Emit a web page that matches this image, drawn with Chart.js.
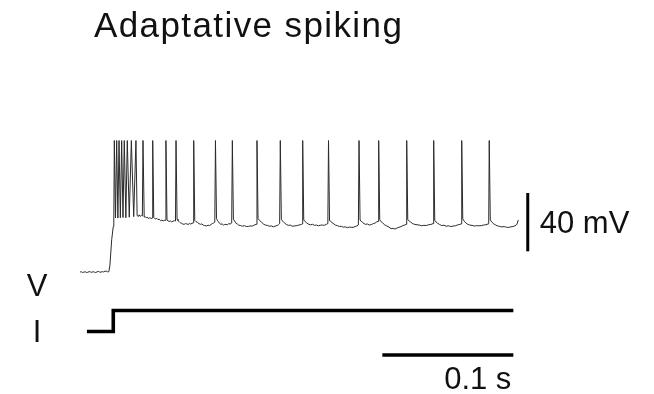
<!DOCTYPE html>
<html>
<head>
<meta charset="utf-8">
<script src="https://cdn.jsdelivr.net/npm/chart.js@4/dist/chart.umd.min.js"></script>
<style>
  html, body { margin: 0; padding: 0; background: #ffffff; }
  #wrap { width: 654px; height: 394px; }
</style>
</head>
<body>
<div id="wrap"><canvas id="c" width="654" height="394"></canvas></div>
<script>
// Membrane potential recording (ms, mV): resting level, current onset, adapting spike train.
// One line per inter-spike stretch; the last value of each line is the spike peak.
const vTimeMs = [
  0, 1, 2, 3, 4, 5, 6, 7, 8, 9, 10, 11, 12, 13, 14, 15, 16, 17, 18, 19, 20, 21, 22,
  22.8, 24.2, 25.4, 25.8,
  26.2, 27.1, 28.0, 28.9, 29.8, 30.8, 31.8, 32.8, 33.8, 35.0, 36.1, 37.6, 39.2, 41.0, 42.7,
  43.6, 44.3, 45.0, 45.8, 46.5, 47.1, 47.6, 48.1,
  49.0, 49.8, 50.5, 51.3, 52.0, 52.8, 53.5, 54.3, 55.0, 55.5,
  56.3, 57.0, 57.8, 58.6, 59.5, 60.5, 61.5, 62.5, 63.5, 64.3, 65.0, 65.6,
  66.4, 67.2, 68.0, 69.0, 70.0, 71.0, 72.0, 72.9, 73.3,
  74.1, 74.8, 75.5, 76.5, 77.5, 78.5, 79.5, 80.5, 81.5, 82.5, 83.5, 84.5, 85.5, 86.4, 86.8,
  87.6, 88.5, 89.5, 90.8, 92.0, 93.0, 94.0, 95.2, 96.5, 97.8, 99.0, 100.0, 101.0, 102.0, 102.9, 103.4,
  104.2, 104.8, 105.5, 106.5, 107.5, 108.5, 109.5, 110.5, 111.5, 112.5, 113.5, 114.6, 115.8, 116.3,
  117.1, 118.0, 118.8, 120.0, 121.0, 122.5, 124.0, 125.5, 127.0, 128.5, 130.0, 131.5, 133.0, 134.6, 135.1,
  135.9, 137.0, 138.5, 140.0, 141.5, 143.0, 144.5, 146.0, 147.5, 149.0, 150.5, 151.5, 152.4, 152.9,
  153.7, 154.8, 156.0, 157.5, 159.0, 160.5, 162.0, 163.5, 165.0, 166.5, 168.0, 169.0, 169.5, 170.0,
  170.8, 171.8, 173.0, 174.5, 176.0, 177.5, 179.0, 180.5, 182.0, 183.5, 185.0, 186.5, 188.0, 189.2, 189.7,
  190.5, 191.5, 192.5, 193.8, 195.0, 196.5, 198.0, 199.5, 201.0, 202.5, 204.0, 205.5, 207.0, 208.5, 210.0, 211.3, 212.5, 213.0,
  213.8, 214.6, 215.5, 216.8, 218.0, 219.5, 221.0, 222.5, 224.0, 225.3, 226.5, 227.6, 228.0,
  228.8, 229.8, 231.0, 232.5, 234.0, 235.8, 237.5, 239.0, 240.5, 242.0, 243.5, 245.0, 246.5, 247.8, 249.0, 249.4,
  250.2, 251.3, 252.5, 254.0, 255.5, 257.3, 259.0, 260.8, 262.5, 264.3, 266.0, 267.8, 269.5, 270.0,
  270.8, 271.8, 273.0, 274.5, 276.0, 277.8, 279.5, 281.3, 283.0, 284.8, 286.5, 288.3, 290.0, 291.0, 291.4,
  292.2, 293.3, 294.5, 296.0, 297.5, 299.3, 301.0, 302.8, 304.5, 306.3, 308.0, 309.8, 311.5, 312.0, 312.4,
  313.2, 314.3, 315.5, 317.0, 318.5, 320.3, 322.0, 323.8, 325.5, 327.3, 329.0, 330.5, 332.0, 333.5, 334.6
];
const vMembraneMv = [
  -70.3, -70.0, -70.6, -70.2, -70.1, -70.5, -70.4, -69.9, -70.2, -70.4, -70.0, -70.3, -70.6, -70.1, -69.8, -70.2, -70.4, -69.9, -70.2, -69.7, -69.6, -70.1, -70.0,
  -66.0, -48.0, -39.0, -36.0,
  20, -33.0, 20, -33.2, 20, -33.0, 20, -32.8, 20, -33.0, 20, -32.6, 20, -32.2, 20,
  -31.5, -31.9, -31.0, -31.6, -32.0, -31.4, -31.8, 20,
  -32.5, -32.2, -33.0, -32.6, -33.5, -33.1, -33.0, -33.6, -33.2, 20,
  -32.8, -33.5, -33.8, -33.4, -34.2, -34.0, -35.0, -34.6, -35.2, -34.7, -34.8, 20,
  -34.5, -35.1, -35.5, -35.2, -35.8, -35.3, -35.0, -35.2, 20,
  -34.0, -34.9, -35.5, -36.4, -36.8, -37.3, -37.5, -37.0, -37.2, -37.6, -37.0, -37.3, -36.8, -36.5, 20,
  -34.8, -35.6, -36.0, -37.0, -37.5, -37.2, -38.0, -38.4, -38.6, -38.1, -38.3, -37.6, -37.0, -36.6, -36.0, 20,
  -33.5, -34.6, -35.5, -36.8, -37.5, -37.2, -38.0, -37.6, -37.5, -37.9, -37.0, -37.3, -36.6, 20,
  -34.0, -35.2, -36.5, -37.2, -38.0, -38.3, -38.8, -38.4, -39.0, -38.9, -38.6, -38.7, -38.0, -37.5, 20,
  -33.5, -34.8, -36.0, -37.3, -38.0, -38.2, -38.8, -38.6, -39.2, -38.7, -38.3, -37.8, -37.0, 20,
  -34.0, -35.4, -36.5, -37.6, -38.2, -38.0, -38.8, -38.6, -38.5, -38.1, -37.8, -37.6, -37.2, 20,
  -34.5, -35.6, -36.5, -37.4, -37.8, -37.5, -38.2, -38.0, -38.5, -38.1, -38.0, -38.2, -37.5, -37.0, 20,
  -35.0, -35.4, -36.5, -37.2, -38.0, -38.4, -39.0, -38.8, -39.5, -39.2, -39.8, -39.4, -39.5, -39.6, -39.0, -38.6, -38.0, 20,
  -34.5, -35.4, -36.0, -37.0, -37.5, -37.3, -38.0, -37.6, -37.0, -36.6, -35.8, -35.5, 20,
  -34.3, -35.6, -36.5, -37.8, -38.5, -39.4, -40.5, -40.2, -40.8, -40.0, -39.5, -39.1, -38.3, -38.0, -37.5, 20,
  -34.3, -35.2, -36.0, -37.1, -37.5, -37.8, -38.0, -38.5, -38.2, -38.3, -37.8, -37.6, -37.0, 20,
  -34.8, -35.9, -36.8, -37.6, -38.3, -38.1, -38.8, -38.5, -39.0, -38.7, -38.5, -37.9, -37.5, -37.2, 20,
  -33.8, -35.3, -36.5, -37.5, -38.0, -38.2, -38.7, -38.4, -38.5, -38.4, -38.0, -37.8, -37.2, -36.8, 20,
  -34.5, -35.8, -37.0, -37.8, -38.5, -38.9, -39.3, -39.0, -39.5, -39.6, -39.2, -39.0, -38.5, -37.6, -34.5
];

// Injected current step (ms, pA)
const iTimeMs = [5.3, 25.4, 25.4, 330.8];
const iCurrentPa = [0, 0, 100, 100];

// Scale bars
const mvBarTimeMs = 341.8;
const mvBarRangeMv = [-56, -16];
const mvBarLabel = '40 mV';
const timeBarRangeMs = [230.8, 330.8];
const timeBarLevelMv = -127.2;
const timeBarLabel = '0.1 s';

const titleText = 'Adaptative spiking';
const traceLabels = ['V', 'I'];

const zip = (xs, ys) => xs.map((x, i) => ({ x: x, y: ys[i] }));

const FAMILY = '"Liberation Sans", Arial, Helvetica, sans-serif';

const labelPlugin = {
  id: 'traceLabels',
  afterDraw(chart) {
    const ctx = chart.ctx;
    const xs = chart.scales.x, ys = chart.scales.y, yi = chart.scales.yI;
    ctx.save();
    ctx.fillStyle = '#111111';
    ctx.textBaseline = 'alphabetic';

    // title
    ctx.font = '35px ' + FAMILY;
    ctx.textAlign = 'left';
    if ('letterSpacing' in ctx) ctx.letterSpacing = '1.4px';
    ctx.fillText(titleText, 94, 37);
    if ('letterSpacing' in ctx) ctx.letterSpacing = '0px';

    ctx.font = '31px ' + FAMILY;
    // 40 mV label beside the vertical bar
    const barX = xs.getPixelForValue(mvBarTimeMs);
    const barMid = (ys.getPixelForValue(mvBarRangeMv[0]) + ys.getPixelForValue(mvBarRangeMv[1])) / 2;
    ctx.fillText(mvBarLabel, barX + 12, barMid + 11);

    // 0.1 s label under the horizontal bar
    ctx.textAlign = 'right';
    ctx.fillText(timeBarLabel, xs.getPixelForValue(timeBarRangeMs[1]) - 2, ys.getPixelForValue(timeBarLevelMv) + 34);

    // trace names
    ctx.textAlign = 'center';
    ctx.fillText(traceLabels[0], 37, ys.getPixelForValue(vMembraneMv[0]) + 24);
    ctx.fillText(traceLabels[1], 37, yi.getPixelForValue(iCurrentPa[0]) + 10);
    ctx.restore();
  }
};

new Chart(document.getElementById('c'), {
  type: 'scatter',
  data: {
    datasets: [
      {
        label: 'V',
        data: zip(vTimeMs, vMembraneMv),
        showLine: true,
        borderColor: '#2a2a2a',
        borderWidth: 1,
        pointRadius: 0,
        tension: 0,
        yAxisID: 'y'
      },
      {
        label: 'I',
        data: zip(iTimeMs, iCurrentPa),
        showLine: true,
        borderColor: '#000000',
        borderWidth: 3.6,
        borderJoinStyle: 'miter',
        borderCapStyle: 'butt',
        pointRadius: 0,
        tension: 0,
        yAxisID: 'yI'
      },
      {
        label: mvBarLabel,
        data: [{ x: mvBarTimeMs, y: mvBarRangeMv[0] }, { x: mvBarTimeMs, y: mvBarRangeMv[1] }],
        showLine: true,
        borderColor: '#000000',
        borderWidth: 3,
        borderCapStyle: 'butt',
        pointRadius: 0,
        yAxisID: 'y'
      },
      {
        label: timeBarLabel,
        data: [{ x: timeBarRangeMs[0], y: timeBarLevelMv }, { x: timeBarRangeMs[1], y: timeBarLevelMv }],
        showLine: true,
        borderColor: '#000000',
        borderWidth: 3.5,
        borderCapStyle: 'butt',
        pointRadius: 0,
        yAxisID: 'y'
      }
    ]
  },
  options: {
    responsive: false,
    animation: false,
    devicePixelRatio: 1,
    layout: { padding: 0 },
    plugins: {
      legend: { display: false },
      title: { display: false },
      tooltip: { enabled: false }
    },
    scales: {
      x: { type: 'linear', min: -61.07, max: 438.17, display: false },
      y: { type: 'linear', min: -153.91, max: 116.42, display: false },
      yI: { type: 'linear', min: -297.6, max: 1578.6, display: false }
    }
  },
  plugins: [labelPlugin]
});
</script>
</body>
</html>
